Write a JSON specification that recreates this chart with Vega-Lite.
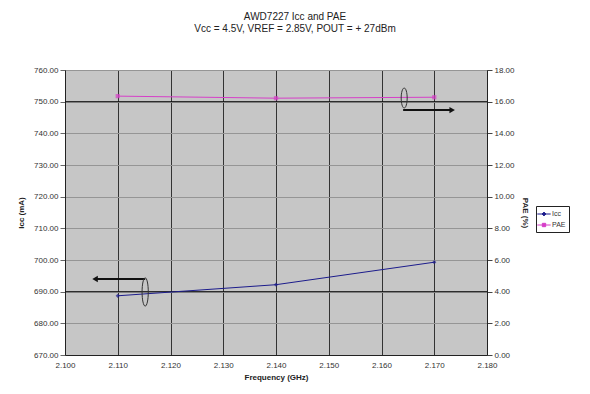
{
  "$schema": "https://vega.github.io/schema/vega-lite/v6.json",
  "width": 422,
  "height": 285,
  "autosize": "none",
  "padding": {"left": 65, "top": 70, "right": 103, "bottom": 39},
  "background": "white",
  "title": {
    "text": "AWD7227 Icc and PAE",
    "subtitle": "Vcc = 4.5V,  VREF = 2.85V,  POUT = + 27dBm",
    "anchor": "middle",
    "dx": 19,
    "offset": 32,
    "font": "Liberation Sans",
    "subtitleFont": "Liberation Sans",
    "fontSize": 10,
    "subtitleFontSize": 10,
    "fontWeight": "normal",
    "color": "#222",
    "subtitleColor": "#222",
    "subtitlePadding": 2
  },
  "config": {
    "view": {"fill": "#c6c6c6", "stroke": "#777"},
    "font": "Liberation Sans",
    "axis": {
      "labelFont": "Liberation Sans",
      "labelFontSize": 8,
      "labelColor": "#333",
      "labelOverlap": false,
      "labelFlush": false,
      "titleFont": "Liberation Sans",
      "titleFontSize": 8,
      "titleColor": "#222",
      "titleFontWeight": "bold",
      "domainColor": "#222",
      "tickColor": "#222",
      "tickSize": 5
    }
  },
  "datasets": {
    "d": [
      {"freq": 2.110, "icc": 688.7, "pae": 16.35},
      {"freq": 2.140, "icc": 692.2, "pae": 16.22},
      {"freq": 2.170, "icc": 699.3, "pae": 16.28}
    ],
    "arrowL": [{"xa": 2.1057, "xb": 2.1152, "y": 694.0}],
    "ellL": [{"x": 2.1152, "y": 689.9}],
    "arrowR": [{"xa": 2.1641, "xb": 2.1734, "y": 15.47}],
    "ellR": [{"x": 2.1643, "y": 16.23}]
  },
  "layer": [
    {
      "layer": [
        {
          "data": {"values": [{"y": 690}, {"y": 750}]},
          "mark": {"type": "rule", "color": "#111", "strokeWidth": 1},
          "encoding": {
            "y": {"field": "y", "type": "quantitative"}
          }
        },
        {
          "data": {"name": "d"},
          "mark": {"type": "line", "strokeWidth": 1},
          "encoding": {
            "x": {
              "field": "freq", "type": "quantitative",
              "scale": {"domain": [2.1, 2.18], "nice": false, "zero": false},
              "axis": {
                "values": [2.10, 2.11, 2.12, 2.13, 2.14, 2.15, 2.16, 2.17, 2.18],
                "format": ".3f", "title": "Frequency (GHz)",
                "grid": true, "gridColor": "#333", "gridOpacity": 1,
                "tickSize": 0, "labelPadding": 6, "titlePadding": 4
              }
            },
            "y": {
              "field": "icc", "type": "quantitative",
              "scale": {"domain": [670, 760], "nice": false, "zero": false},
              "axis": {
                "orient": "left",
                "values": [670, 680, 690, 700, 710, 720, 730, 740, 750, 760],
                "tickCount": 10,
                "format": ".2f", "title": "Icc (mA)",
                "grid": true,
                "gridColor": "#959595",
                "gridOpacity": 1,
                "tickColor": "#666",
                "titlePadding": 8
              }
            },
            "color": {
              "datum": "Icc", "type": "nominal",
              "scale": {"domain": ["Icc", "PAE"], "range": ["#1c1c8c", "#d63fc8"]},
              "legend": {
                "title": null, "orient": "none", "legendX": 471, "legendY": 136,
                "strokeColor": "#222", "fillColor": "white", "padding": 3,
                "labelFontSize": 7, "labelColor": "#333", "symbolSize": 70,
                "rowPadding": 2, "symbolStrokeWidth": 1, "labelOffset": 3,
                "encode": {"symbols": {"update": {
                  "shape": {"signal": "datum.value == 'Icc' ? 'M-1.6,0H1.6M0,-0.45L0.45,0L0,0.45L-0.45,0Z' : 'M-1.6,0H1.6M-0.4,-0.4H0.4V0.4H-0.4Z'"},
                  "fill": {"signal": "datum.value == 'Icc' ? '#1c1c8c' : '#d63fc8'"}
                }}}
              }
            }
          }
        },
        {
          "data": {"name": "d"},
          "mark": {"type": "point", "shape": "diamond", "filled": true, "size": 18},
          "encoding": {
            "x": {"field": "freq", "type": "quantitative"},
            "y": {"field": "icc", "type": "quantitative"},
            "color": {"datum": "Icc", "type": "nominal"}
          }
        },
        {
          "data": {"name": "arrowL"},
          "mark": {"type": "rule", "color": "#111", "strokeWidth": 2},
          "encoding": {
            "x": {"field": "xa", "type": "quantitative"},
            "x2": {"field": "xb"},
            "y": {"field": "y", "type": "quantitative"}
          }
        },
        {
          "data": {"name": "arrowL"},
          "mark": {"type": "point", "shape": "triangle-left", "filled": true, "color": "#111", "size": 40, "opacity": 1},
          "encoding": {
            "x": {"field": "xa", "type": "quantitative"},
            "y": {"field": "y", "type": "quantitative"}
          }
        },
        {
          "data": {"name": "ellL"},
          "mark": {"type": "point", "shape": "M0,-1A0.22,1,0,1,1,0,1A0.22,1,0,1,1,0,-1Z", "filled": false, "color": "#333", "size": 800, "strokeWidth": 1, "opacity": 1},
          "encoding": {
            "x": {"field": "x", "type": "quantitative"},
            "y": {"field": "y", "type": "quantitative"}
          }
        }
      ]
    },
    {
      "layer": [
        {
          "data": {"name": "d"},
          "mark": {"type": "line", "strokeWidth": 1},
          "encoding": {
            "x": {"field": "freq", "type": "quantitative"},
            "y": {
              "field": "pae", "type": "quantitative",
              "scale": {"domain": [0, 18], "nice": false},
              "axis": {
                "orient": "right",
                "values": [0, 2, 4, 6, 8, 10, 12, 14, 16, 18],
                "tickCount": 10,
                "format": ".2f", "title": "PAE (%)",
                "grid": false, "titlePadding": 6,
                "tickColor": "#444"
              }
            },
            "color": {"datum": "PAE", "type": "nominal"}
          }
        },
        {
          "data": {"name": "d"},
          "mark": {"type": "point", "shape": "square", "filled": true, "size": 18},
          "encoding": {
            "x": {"field": "freq", "type": "quantitative"},
            "y": {"field": "pae", "type": "quantitative"},
            "color": {"datum": "PAE", "type": "nominal"}
          }
        },
        {
          "data": {"name": "arrowR"},
          "mark": {"type": "rule", "color": "#111", "strokeWidth": 2},
          "encoding": {
            "x": {"field": "xa", "type": "quantitative"},
            "x2": {"field": "xb"},
            "y": {"field": "y", "type": "quantitative"}
          }
        },
        {
          "data": {"name": "arrowR"},
          "mark": {"type": "point", "shape": "triangle-right", "filled": true, "color": "#111", "size": 40, "opacity": 1},
          "encoding": {
            "x": {"field": "xb", "type": "quantitative"},
            "y": {"field": "y", "type": "quantitative"}
          }
        },
        {
          "data": {"name": "ellR"},
          "mark": {"type": "point", "shape": "M0,-1A0.3,1,0,1,1,0,1A0.3,1,0,1,1,0,-1Z", "filled": false, "color": "#333", "size": 400, "strokeWidth": 1, "opacity": 1},
          "encoding": {
            "x": {"field": "x", "type": "quantitative"},
            "y": {"field": "y", "type": "quantitative"}
          }
        }
      ]
    }
  ],
  "resolve": {"scale": {"y": "independent"}}
}
